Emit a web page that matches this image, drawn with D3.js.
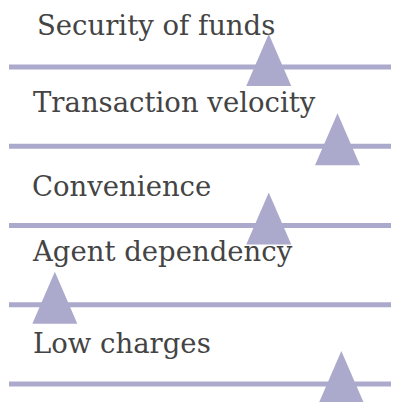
<!DOCTYPE html>
<html>
<head>
<meta charset="utf-8">
<style>
  body { margin: 0; background: #fff; }
  svg { display: block; }
</style>
<script src="https://cdn.jsdelivr.net/npm/d3@7"></script>
</head>
<body>
<script>
// Factors and their position on a 0-100 rating scale
var factors = ["Security of funds", "Transaction velocity", "Convenience", "Agent dependency", "Low charges"];
var ratings = [68, 86, 68, 12, 87];

var width = 393, height = 402;
var lineColor = "#aba9cc", textColor = "#444";

var svg = d3.select("body").append("svg")
    .attr("width", width)
    .attr("height", height);

var x = d3.scaleLinear().domain([0, 100]).range([9, 391]);
var y = d3.scalePoint().domain(factors).range([67, 384]);

// label placement relative to each row's line
var labelDx = [37, 33, 32, 33, 33];
var labelDy = [-32, -34, -30, -44, -31];

var rows = svg.selectAll(".row")
    .data(factors)
  .enter().append("g")
    .attr("class", "row")
    .attr("transform", d => `translate(0,${y(d)})`);

rows.append("line")
    .attr("x1", x(0)).attr("x2", x(100))
    .attr("stroke", lineColor)
    .attr("stroke-width", 5);

rows.append("text")
    .attr("x", (d, i) => labelDx[i])
    .attr("y", (d, i) => labelDy[i])
    .attr("fill", textColor)
    .style("font-family", "'DejaVu Serif', serif")
    .style("font-size", "27.5px")
    .text(d => d);

// triangle markers, apex above the line
rows.append("path")
    .attr("d", "M0,-33 L22.5,19 L-22.5,19 Z")
    .attr("fill", lineColor)
    .attr("transform", (d, i) => `translate(${x(ratings[i])},0)`);
</script>
</body>
</html>
